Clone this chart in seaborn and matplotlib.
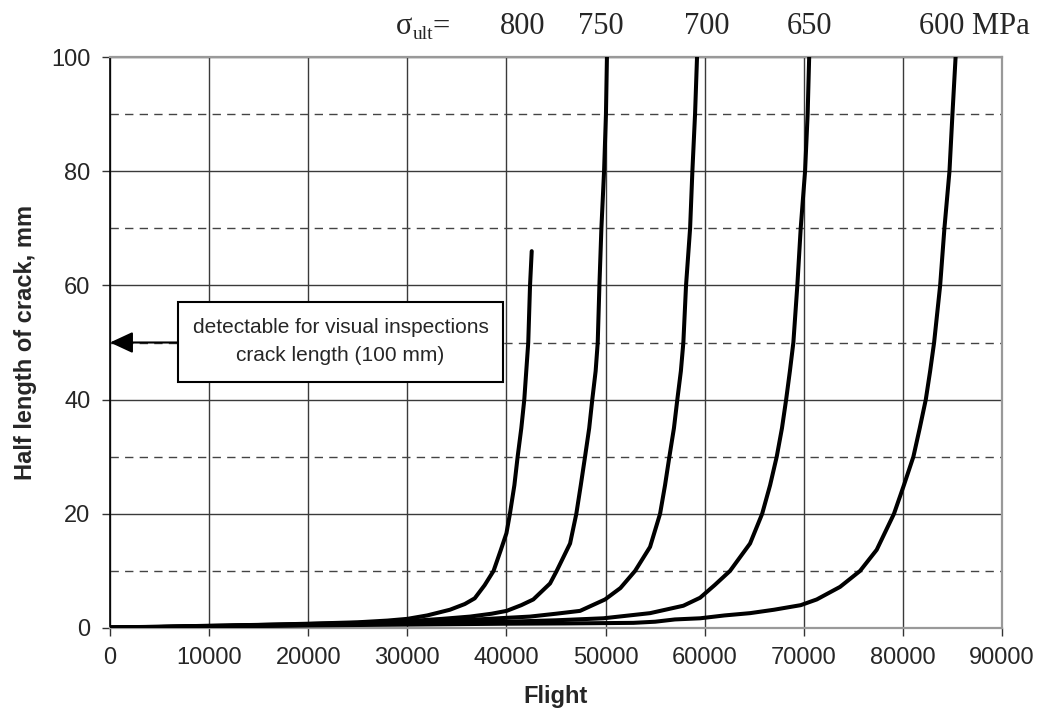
import matplotlib
matplotlib.use("Agg")
import matplotlib.pyplot as plt
from matplotlib.patches import Rectangle
import seaborn as sns
import pandas as pd

# ---- data ----
stress_levels = ["800", "750", "700", "650", "600"]

flights_800 = [0, 5000, 10000, 15000, 20000, 25000, 28000, 30000, 32000, 34300, 35800, 36800,
               37800, 38700, 39400, 40000, 40350, 40800, 41130, 41500, 41800, 42200, 42380, 42550]
crack_800 = [0.1, 0.2, 0.4, 0.55, 0.75, 1.0, 1.3, 1.6, 2.2, 3.2, 4.2, 5.2,
             7.5, 10, 13.5, 16.6, 20, 25, 30, 35, 40, 50, 60, 66]

flights_750 = [0, 10000, 20000, 25000, 30950, 33500, 36330, 38500, 40020, 41500, 42710, 44400,
               45070, 46420, 47050, 47500, 47930, 48350, 48660, 49000, 49210, 49380, 49580,
               49850, 50040, 50150]
crack_750 = [0.1, 0.35, 0.7, 0.9, 1.3, 1.6, 2.0, 2.5, 3.0, 4.0, 5.0, 7.8,
             10, 14.8, 20, 25, 30, 35, 40, 45, 50, 60, 70, 80, 90, 101]

flights_700 = [0, 10000, 20000, 30000, 36000, 42380, 45000, 47430, 49950, 51500, 52980, 54490,
               55500, 56000, 56440, 56900, 57240, 57600, 57850, 58120, 58530, 58760, 59030, 59250]
crack_700 = [0.05, 0.3, 0.6, 1.0, 1.4, 2.0, 2.5, 3.0, 5.0, 7.0, 10, 14.2,
             20, 25, 30, 35, 40, 45, 50, 60, 70, 80, 90, 101]

flights_650 = [0, 10000, 20000, 30000, 40000, 45000, 49780, 54490, 57850, 59540, 61000, 62560,
               64580, 65800, 66600, 67270, 67800, 68220, 68600, 68950, 69350, 69690, 70130,
               70390, 70560]
crack_650 = [0.05, 0.3, 0.55, 0.8, 1.1, 1.35, 1.7, 2.6, 3.9, 5.3, 7.5, 10,
             14.8, 20, 25, 30, 35, 40, 45, 50, 60, 70, 80, 90, 101]

flights_600 = [0, 10000, 20000, 30000, 40000, 46000, 52800, 55000, 57000, 59540, 62000, 64580,
               67000, 69690, 71310, 73660, 75680, 77360, 79100, 80100, 81060, 81700, 82310,
               82750, 83150, 83760, 84190, 84700, 85000, 85350]
crack_600 = [0.05, 0.25, 0.45, 0.6, 0.75, 0.8, 0.9, 1.1, 1.5, 1.7, 2.2, 2.6,
             3.2, 4.0, 5.0, 7.2, 10, 13.7, 20, 25, 30, 35, 40, 45, 50, 60, 70, 80, 90, 101]

x_ticks = [0, 10000, 20000, 30000, 40000, 50000, 60000, 70000, 80000, 90000]
y_ticks = [0, 20, 40, 60, 80, 100]
y_minor_dashed = [10, 30, 50, 70, 90]

series = {
    "800": (flights_800, crack_800),
    "750": (flights_750, crack_750),
    "700": (flights_700, crack_700),
    "650": (flights_650, crack_650),
    "600": (flights_600, crack_600),
}
rows = []
for lvl in stress_levels:
    fx, cy = series[lvl]
    for a, b in zip(fx, cy):
        rows.append({"Flight": a, "Crack": b, "Stress": lvl})
df = pd.DataFrame(rows)

# ---- plotting ----
sns.set_style("white")
plt.rcParams["font.family"] = ["Liberation Sans", "DejaVu Sans"]

fig = plt.figure(figsize=(10.43, 7.19), dpi=100)
ax = fig.add_axes([110 / 1043, 1 - 628 / 719, 892 / 1043, 571 / 719])

# grid
for xv in x_ticks:
    ax.axvline(xv, color="#3a3a3a", lw=1.0, zorder=1)
for yv in y_ticks:
    ax.axhline(yv, color="#3a3a3a", lw=1.0, zorder=1)
for yv in y_minor_dashed:
    ax.axhline(yv, color="#444444", lw=1.0, ls=(0, (6, 4.5)), zorder=1)

sns.lineplot(data=df, x="Flight", y="Crack", hue="Stress", units="Stress", estimator=None,
             sort=False, palette=["black"] * 5, linewidth=2.9, legend=False, ax=ax, zorder=3)

ax.set_xlim(0, 90000)
ax.set_ylim(0, 100)
ax.set_xticks(x_ticks)
ax.set_yticks(y_ticks)
ax.tick_params(axis="both", direction="out", length=5.5, width=1, labelsize=17,
               color="#333333", pad=8.5, bottom=True, left=True)

for side in ["top", "right", "bottom"]:
    ax.spines[side].set_color("#999999")
    ax.spines[side].set_linewidth(1.6)
ax.spines["left"].set_color("black")
ax.spines["left"].set_linewidth(1.2)

ax.set_xlabel("Flight", fontsize=17, fontweight="bold")
ax.set_ylabel("Half length of crack, mm", fontsize=17, fontweight="bold")
ax.xaxis.set_label_coords(0.5, -0.100)
ax.yaxis.set_label_coords(-0.082, 0.5)

# annotation box
ax.add_patch(Rectangle((6860, 43.1), 32800, 14.0, facecolor="white", edgecolor="black",
                       lw=1.5, zorder=4))
ax.text(23260, 52.7, "detectable for visual inspections", ha="center", va="center",
        fontsize=15, zorder=5)
ax.text(23260, 47.8, "crack length (100 mm)", ha="center", va="center",
        fontsize=15, zorder=5)
ax.annotate("", xy=(0, 50), xytext=(6860, 50),
            arrowprops=dict(arrowstyle="-|>,head_length=1.4,head_width=0.65", color="black",
                            lw=1.5, shrinkA=0, shrinkB=0), zorder=5, annotation_clip=False)

# top labels
serif = ["Liberation Serif", "DejaVu Serif"]
ty = 1 - 27 / 719
fig.text(396 / 1043, ty, "σ", fontsize=22, family=serif, ha="left", va="center")
fig.text(413 / 1043, ty - 0.011, "ult", fontsize=14, family=serif, ha="left", va="center")
fig.text(433 / 1043, ty, "=", fontsize=22, family=serif, ha="left", va="center")
for lbl, px in zip(["800", "750", "700", "650"], [523, 601, 707, 810]):
    fig.text(px / 1043, ty, lbl, fontsize=22, family=serif, ha="center", va="center")
fig.text(919 / 1043, ty, "600 MPa", fontsize=22, family=serif, ha="left", va="center")

fig.savefig("out.png", dpi=100)
